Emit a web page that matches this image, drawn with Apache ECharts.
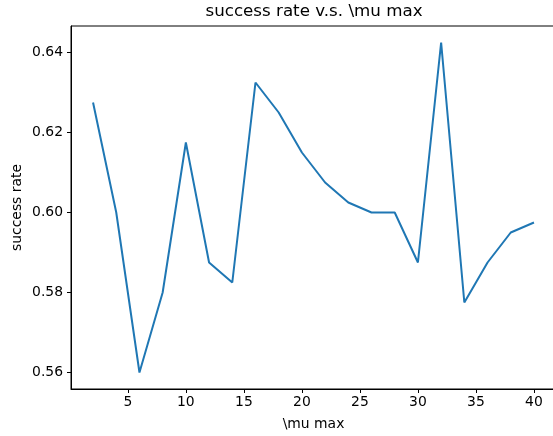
<!DOCTYPE html>
<html>
<head>
<meta charset="utf-8">
<script src="https://cdn.jsdelivr.net/npm/echarts@6/dist/echarts.min.js"></script>
<style>
  html, body { margin: 0; padding: 0; background: #fff; }
  #chart { width: 553px; height: 436px; }
</style>
</head>
<body>
<div id="chart"></div>
<script>
// mu max values (x) and the success rate
const muMax = [2, 4, 6, 8, 10, 12, 14, 16, 18, 20, 22, 24, 26, 28, 30, 32, 34, 36, 38, 40];
const successRate = [0.6275, 0.600, 0.560, 0.580, 0.6175, 0.5875, 0.5825, 0.6325, 0.625, 0.615,
                     0.6075, 0.6025, 0.600, 0.600, 0.5875, 0.6425, 0.5775, 0.5875, 0.595, 0.5975];
const xTicks = [5, 10, 15, 20, 25, 30, 35, 40];
const yTicks = [0.56, 0.58, 0.60, 0.62, 0.64];

const font = 'DejaVu Sans';
const dom = document.getElementById('chart');
const myChart = echarts.init(dom, null, { renderer: 'canvas' });

// matplotlib style 5% margins around the data
const xMin = Math.min(...muMax), xMax = Math.max(...muMax);
const yMin = Math.min(...successRate), yMax = Math.max(...successRate);
const xPad = (xMax - xMin) * 0.05, yPad = (yMax - yMin) * 0.05;

const option = {
    animation: false,
    backgroundColor: '#fff',
    title: {
        text: 'success rate v.s. \\mu max',
        left: 314,
        top: 3,
        textAlign: 'center',
        padding: 0,
        textStyle: { fontFamily: font, fontSize: 16.7, fontWeight: 'normal', color: '#000' }
    },
    grid: {
        // the right spine sits just past the picture edge
        left: 71, width: 485, top: 26, bottom: 47,
        outerBoundsMode: 'none',
        show: true, borderColor: '#000', borderWidth: 1, backgroundColor: 'transparent'
    },
    xAxis: {
        type: 'value',
        min: xMin - xPad,
        max: xMax + xPad,
        name: '\\mu max',
        nameLocation: 'middle',
        nameGap: 28,
        nameMoveOverlap: false,
        nameTextStyle: { fontFamily: font, fontSize: 13.9, color: '#000' },
        axisLine: { show: true, lineStyle: { color: '#000', width: 1 } },
        axisTick: { show: true, inside: false, length: 4, customValues: xTicks, lineStyle: { color: '#000' } },
        axisLabel: {
            customValues: xTicks, margin: 6,
            fontFamily: font, fontSize: 13.9, color: '#000'
        },
        splitLine: { show: false }
    },
    yAxis: {
        type: 'value',
        min: yMin - yPad,
        max: yMax + yPad,
        name: 'success rate',
        nameLocation: 'middle',
        nameGap: 47,
        nameMoveOverlap: false,
        nameTextStyle: { fontFamily: font, fontSize: 13.9, color: '#000' },
        axisLine: { show: true, lineStyle: { color: '#000', width: 1 } },
        axisTick: { show: true, inside: false, length: 4, customValues: yTicks, lineStyle: { color: '#000' } },
        axisLabel: {
            customValues: yTicks, margin: 8,
            fontFamily: font, fontSize: 13.9, color: '#000',
            formatter: v => v.toFixed(2)
        },
        splitLine: { show: false }
    },
    series: [{
        type: 'line',
        data: muMax.map((x, i) => [x, successRate[i]]),
        showSymbol: false,
        symbol: 'none',
        lineStyle: { color: '#1f77b4', width: 2 },
        itemStyle: { color: '#1f77b4' }
    }]
};

myChart.setOption(option);
</script>
</body>
</html>
